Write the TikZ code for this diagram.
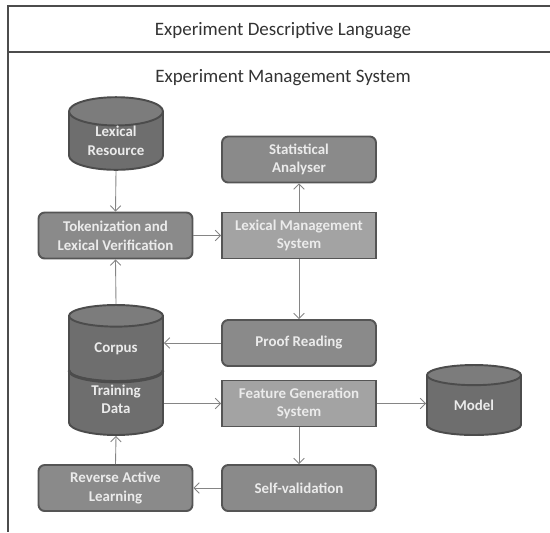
\documentclass[tikz,border=0pt]{standalone}
\usepackage{fontspec}
\setmainfont{Carlito}
\usetikzlibrary{shapes.geometric,arrows.meta,positioning}

\definecolor{rimgray}{HTML}{555555}
\definecolor{boxgray}{HTML}{8A8A8A}
\definecolor{sysgray}{HTML}{A3A3A3}
\definecolor{dbtop}{HTML}{7C7C7C}
\definecolor{dbbody}{HTML}{6E6E6E}
\definecolor{linkgray}{HTML}{858585}

\begin{document}
\begin{tikzpicture}[x=0.02cm,y=-0.02cm,
  lbl/.style={font=\fontsize{8.5}{10.6}\selectfont\bfseries, text=white!92!black, align=center, inner sep=0pt},
  rbox/.style={lbl, draw=rimgray, line width=1.1pt, fill=boxgray, rounded corners=3.5pt, minimum width=3.08cm, minimum height=0.92cm},
  sbox/.style={lbl, draw=rimgray, line width=1.1pt, fill=sysgray, minimum width=3.08cm, minimum height=0.92cm},
  store/.style={lbl, cylinder, shape border rotate=90, aspect=0.5, draw=black!70, line width=1.1pt,
    cylinder uses custom fill, cylinder end fill=dbtop, cylinder body fill=dbbody,
    minimum width=1.88cm, anchor=shape center},
  link/.style={draw=linkgray, line width=0.5pt, -{Straight Barb[length=3pt,width=6pt]}},
  frame/.style={draw=black!70, line width=1pt},
  head/.style={font=\fontsize{10.8}{13}\selectfont, text=black!80}]

\useasboundingbox (0,0) rectangle (550,532);

% outer frame
\draw[frame] (550,6) -- (8,6) -- (8,532);
\draw[frame] (8,52) -- (550,52);
\node[head] (edl) at (283,31) {Experiment Descriptive Language};
\node[head] (ems) at (283,78) {Experiment Management System};

% left column
\node[store, minimum height=1.34cm] (lexres) at (116,133.5) {Lexical\\Resource};
\node[rbox] (toklex) at (115.5,235.5) {Tokenization and\\Lexical Verification};
\node[store, minimum height=1.7cm] (training) at (116,392.5) {Training\\Data};
\node[store, minimum height=1.52cm] (corpus) at (116,343) {Corpus};
% seam between the two stores
\draw[black!70, line width=1.6pt] (corpus.south) arc[start angle=90, end angle=180, x radius=47, y radius=11.5]
  (corpus.south) arc[start angle=90, end angle=0, x radius=47, y radius=11.5];
\node[rbox] (ral) at (115.5,488) {Reverse Active\\Learning};

% middle column
\node[rbox] (stat) at (299,159.5) {Statistical\\Analyser};
\node[sbox] (lms) at (299,235.5) {Lexical Management\\System};
\node[rbox] (proof) at (299,343) {Proof Reading};
\node[sbox] (fgs) at (299,403.5) {Feature Generation\\System};
\node[rbox] (selfval) at (299,488) {Self-validation};

% output
\node[store, minimum height=1.4cm] (model) at (474,400) {Model};

% connectors
\draw[link] (lexres.south) -- (toklex.north);
\draw[link] (toklex.east) -- (lms.west);
\draw[link] (lms.north) -- (stat.south);
\draw[link] (lms.south) -- (proof.north);
\draw[link] (proof.west) -- (proof.west -| corpus.east);
\draw[link] (corpus.north) -- (toklex.south);
\draw[link] (fgs.west -| training.east) -- (fgs.west);
\draw[link] (fgs.east) -- (fgs.east -| model.west);
\draw[link] (fgs.south) -- (selfval.north);
\draw[link] (selfval.west) -- (ral.east);
\draw[link] (ral.north) -- (training.south);

\end{tikzpicture}
\end{document}
